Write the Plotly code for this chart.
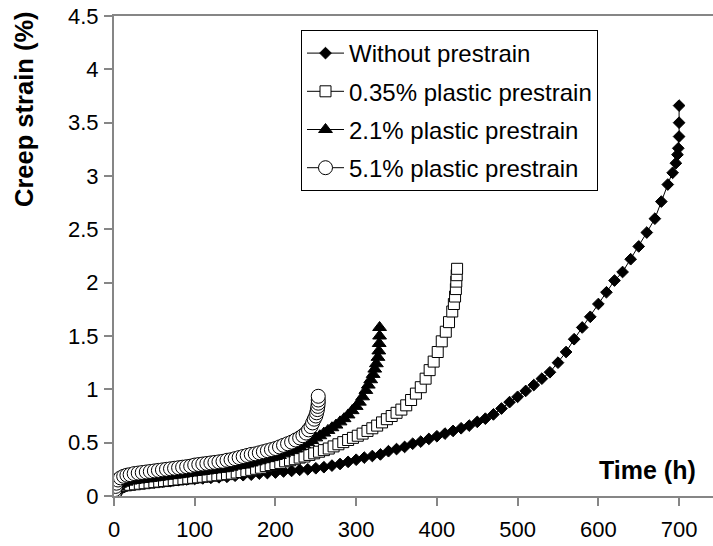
import plotly.graph_objects as go

# ---- data ----
x_without = [0, 1, 2, 4, 6, 8, 10, 15, 20, 30, 40, 50, 60, 70, 80, 90, 100, 110, 120, 130,
             140, 150, 160, 170, 180, 190, 200, 210, 220, 230, 240, 250, 260, 270, 280, 290,
             300, 310, 320, 330, 340, 350, 360, 370, 380, 390, 400, 410, 420, 430, 440, 450,
             460, 470, 480, 490, 500, 510, 520, 530, 540, 550, 560, 570, 580, 590, 600, 610,
             620, 630, 640, 650, 660, 670, 678, 686, 692, 696, 698, 699, 700, 700, 700]
y_without = [0.00, 0.03, 0.05, 0.07, 0.08, 0.09, 0.10, 0.105, 0.11, 0.12, 0.125, 0.13, 0.135,
             0.14, 0.15, 0.155, 0.16, 0.165, 0.17, 0.175, 0.18, 0.19, 0.195, 0.20, 0.21, 0.215,
             0.22, 0.23, 0.235, 0.245, 0.25, 0.26, 0.27, 0.285, 0.30, 0.32, 0.34, 0.36, 0.375,
             0.39, 0.42, 0.44, 0.46, 0.49, 0.51, 0.535, 0.56, 0.585, 0.61, 0.635, 0.66, 0.695,
             0.725, 0.765, 0.82, 0.88, 0.93, 0.985, 1.04, 1.10, 1.16, 1.25, 1.35, 1.47, 1.58,
             1.68, 1.80, 1.91, 2.02, 2.10, 2.22, 2.34, 2.47, 2.60, 2.76, 2.92, 3.03, 3.12, 3.20,
             3.26, 3.37, 3.50, 3.66]

x_035 = [0, 2, 4, 7, 10, 15, 20, 26, 32, 38, 44, 50, 56, 62, 68, 74, 80, 86, 92, 98, 104, 110,
         116, 122, 128, 134, 140, 146, 152, 158, 164, 170, 176, 182, 188, 194, 200, 206, 212,
         218, 224, 230, 236, 242, 248, 254, 260, 266, 272, 278, 284, 290, 296, 302, 308, 314,
         320, 326, 332, 338, 344, 350, 356, 362, 368, 374, 380, 386, 391, 396, 401, 406, 411,
         415, 419, 421, 422.5, 423.5, 424, 424.5, 425]
y_035 = [0.00, 0.05, 0.07, 0.085, 0.095, 0.10, 0.105, 0.11, 0.115, 0.12, 0.125, 0.13, 0.135,
         0.14, 0.145, 0.15, 0.155, 0.16, 0.165, 0.17, 0.175, 0.18, 0.185, 0.19, 0.195, 0.20,
         0.205, 0.21, 0.22, 0.225, 0.235, 0.245, 0.255, 0.265, 0.28, 0.29, 0.30, 0.31, 0.325,
         0.335, 0.345, 0.36, 0.37, 0.385, 0.40, 0.415, 0.43, 0.445, 0.465, 0.485, 0.505, 0.525,
         0.545, 0.565, 0.585, 0.61, 0.635, 0.66, 0.69, 0.72, 0.75, 0.78, 0.81, 0.85, 0.90, 0.96,
         1.02, 1.10, 1.18, 1.26, 1.35, 1.45, 1.54, 1.63, 1.73, 1.80, 1.87, 1.94, 2.01, 2.07, 2.13]

x_21 = [0, 2, 4, 7, 10, 15, 20, 25, 30, 35, 40, 45, 50, 55, 60, 65, 70, 75, 80, 85, 90, 95,
        100, 105, 110, 115, 120, 125, 130, 135, 140, 145, 150, 155, 160, 165, 170, 175, 180,
        185, 190, 195, 200, 205, 210, 215, 220, 225, 230, 235, 240, 245, 250, 255, 260, 265,
        270, 275, 280, 285, 290, 295, 300, 304, 308, 312, 315, 318, 321, 323, 325, 327, 328,
        328.5, 329, 329]
y_21 = [0.00, 0.06, 0.09, 0.11, 0.12, 0.13, 0.14, 0.145, 0.15, 0.155, 0.16, 0.165, 0.17,
        0.175, 0.18, 0.185, 0.19, 0.195, 0.20, 0.205, 0.21, 0.215, 0.22, 0.225, 0.23, 0.235,
        0.24, 0.245, 0.25, 0.255, 0.26, 0.27, 0.28, 0.285, 0.29, 0.30, 0.31, 0.32, 0.33, 0.34,
        0.35, 0.36, 0.37, 0.38, 0.395, 0.41, 0.425, 0.44, 0.46, 0.48, 0.50, 0.52, 0.545, 0.565,
        0.59, 0.615, 0.64, 0.665, 0.695, 0.725, 0.76, 0.80, 0.84, 0.88, 0.93, 0.99, 1.04, 1.09,
        1.14, 1.19, 1.24, 1.30, 1.36, 1.43, 1.50, 1.58]

x_51 = [0, 0.5, 1, 2, 3, 5, 8, 12, 16, 20, 25, 30, 35, 40, 45, 50, 55, 60, 65, 70, 75, 80, 85,
        90, 95, 100, 105, 110, 115, 120, 125, 130, 135, 140, 145, 150, 155, 160, 165, 170, 175,
        180, 185, 190, 195, 200, 205, 210, 215, 220, 225, 230, 234, 238, 241, 244, 246, 248,
        250, 251, 252, 252.5, 253, 253, 253]
y_51 = [0.00, 0.03, 0.06, 0.09, 0.12, 0.15, 0.17, 0.185, 0.195, 0.20, 0.21, 0.215, 0.22, 0.225,
        0.23, 0.235, 0.24, 0.245, 0.25, 0.255, 0.26, 0.265, 0.27, 0.275, 0.28, 0.29, 0.295,
        0.30, 0.305, 0.31, 0.315, 0.32, 0.325, 0.335, 0.34, 0.35, 0.36, 0.37, 0.38, 0.39, 0.395,
        0.405, 0.415, 0.425, 0.435, 0.445, 0.46, 0.475, 0.49, 0.505, 0.525, 0.545, 0.565, 0.59,
        0.62, 0.65, 0.685, 0.72, 0.75, 0.78, 0.81, 0.84, 0.87, 0.90, 0.935]

names = ["Without prestrain", "0.35% plastic prestrain", "2.1% plastic prestrain",
         "5.1% plastic prestrain"]
x_ticks = [0, 100, 200, 300, 400, 500, 600, 700]
y_ticks = [0, 0.5, 1, 1.5, 2, 2.5, 3, 3.5, 4, 4.5]
y_tick_text = ["0", "0.5", "1", "1.5", "2", "2.5", "3", "3.5", "4", "4.5"]

FONT = "Liberation Sans, Arial, sans-serif"
GRAY = "#868686"

W, H = 713, 546
PL, PT, PW, PH = 114, 16, 599, 480


def px(xp):
    return (xp - PL) / PW


def py(yp):
    return (PT + PH - yp) / PH


series = [
    (x_without, y_without, dict(symbol="diamond", size=9, color="black",
                                line=dict(color="black", width=1))),
    (x_035, y_035, dict(symbol="square", size=11, color="white",
                        line=dict(color="black", width=1))),
    (x_21, y_21, dict(symbol="triangle-up", size=12, color="black",
                      line=dict(color="black", width=1))),
    (x_51, y_51, dict(symbol="circle", size=14, color="white",
                      line=dict(color="black", width=1))),
]

fig = go.Figure()
for i, (xs, ys, mk) in enumerate(series):
    fig.add_trace(go.Scatter(x=xs, y=ys, mode="lines+markers", name=names[i],
                             legendgroup=str(i),
                             line=dict(color="black", width=1), marker=mk))

fig.update_layout(
    width=W, height=H,
    margin=dict(l=PL, r=W - PL - PW, t=PT, b=H - PT - PH),
    paper_bgcolor="white", plot_bgcolor="white",
    font=dict(family=FONT, size=22, color="black"),
    showlegend=True,
    legend=dict(x=px(301), y=py(30), xanchor="left", yanchor="top",
                bordercolor="black", borderwidth=1, bgcolor="white",
                font=dict(size=24, family=FONT), tracegroupgap=4,
                traceorder="grouped", itemwidth=37),
    xaxis=dict(range=[0, 742], tickvals=x_ticks, showgrid=False, zeroline=False,
               showline=True, linecolor=GRAY, linewidth=2, mirror=True,
               ticks="outside", ticklen=8, tickwidth=2, tickcolor=GRAY,
               tickfont=dict(size=22), ticklabelstandoff=5,
               ticklabeloverflow="allow"),
    yaxis=dict(range=[0, 4.5], tickvals=y_ticks, ticktext=y_tick_text,
               showgrid=False, zeroline=False,
               showline=True, linecolor=GRAY, linewidth=2,
               ticks="outside", ticklen=8, tickwidth=2, tickcolor=GRAY,
               tickfont=dict(size=22), ticklabelstandoff=1,
               ticklabeloverflow="allow"),
    annotations=[
        dict(text="<b>Creep strain (%)</b>", textangle=-90, xref="paper", yref="paper",
             x=px(24), y=py(109), xanchor="center", yanchor="middle",
             showarrow=False, font=dict(size=25.5, family=FONT)),
        dict(text="<b>Time (h)</b>", xref="paper", yref="paper",
             x=px(698), y=py(470), xanchor="right", yanchor="middle",
             showarrow=False, font=dict(size=25, family=FONT)),
    ],
)

fig.write_html("out.html", config={"displayModeBar": False},
               post_script="document.body.style.margin='0';document.body.style.overflow='hidden';")
